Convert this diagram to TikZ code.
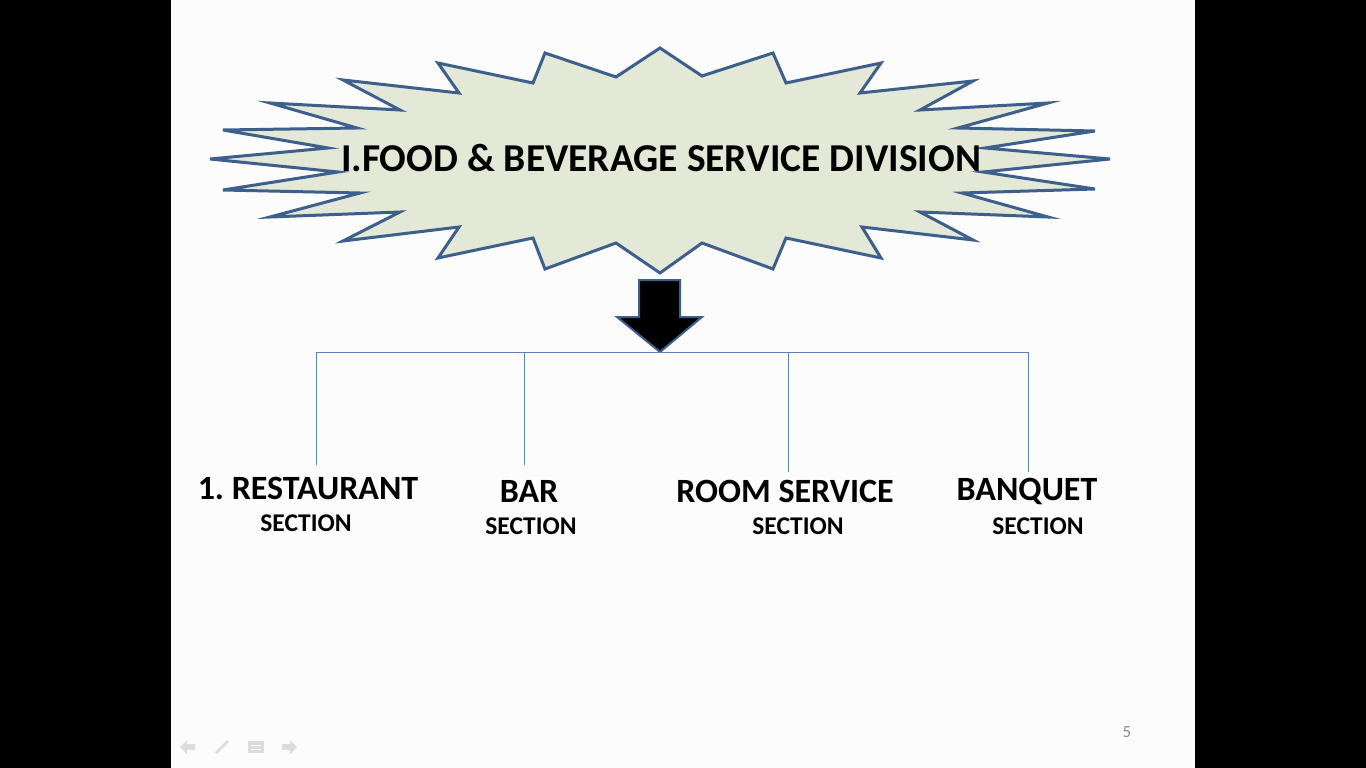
\documentclass[tikz,border=0pt]{standalone}
\usepackage{fontspec}
\setmainfont{Carlito}
\usepackage{xcolor}
\frenchspacing

\definecolor{burstfill}{HTML}{E4E8D6}
\definecolor{burstline}{HTML}{3D5F8C}
\definecolor{branchline}{HTML}{5B82B3}
\definecolor{iconcol}{HTML}{DCDCDC}

\tikzset{
  burst/.style={fill=burstfill, draw=burstline, line width=3pt, line join=miter},
  downarrow/.style={fill=black, draw=burstline, line width=2pt, line join=miter},
  branch/.style={draw=branchline, line width=0.9pt},
  unitname/.style={font=\fontsize{34}{36}\selectfont\bfseries, inner sep=0pt},
  unitsub/.style={font=\fontsize{25.5}{27}\selectfont\bfseries, inner sep=0pt}
}

\begin{document}
\begin{tikzpicture}[x=1pt, y=-1pt]
  % Page frame and slide
  \useasboundingbox (0,0) rectangle (1366,768);
  \fill[black] (0,0) rectangle (1366,768);
  \fill[white!99!black] (171,0) rectangle (1195,768);

  % Starburst behind the title
  \draw[burst] (660,48) -- (702,76) -- (773,53) -- (786,83) -- (881,63) -- (860,93)
    -- (973,81) -- (920,110) -- (1048,103) -- (958,128) -- (1095,131) -- (985,148)
    -- (1110,159) -- (983,172) -- (1095,189) -- (962,193) -- (1048,217) -- (920,212)
    -- (973,240) -- (862,227) -- (881,258) -- (786,238) -- (773,269) -- (702,243)
    -- (660,273) -- (616,243) -- (545,269) -- (533,238) -- (438,258) -- (459,227)
    -- (343,241) -- (400,212) -- (270,217) -- (360,193) -- (223,190) -- (338,172)
    -- (210,159) -- (328,148) -- (223,130) -- (357,128) -- (270,103) -- (400,110)
    -- (343,80) -- (459,93) -- (438,63) -- (533,83) -- (545,53) -- (616,77) -- cycle;
  \node[font=\fontsize{39.5}{41}\selectfont\bfseries, inner sep=0pt] (division) at (661,158)
    {I.FOOD \& BEVERAGE SERVICE DIVISION};

  % Block arrow down to the branches
  \draw[downarrow] (639,280) -- (680,280) -- (680,317) -- (702,317) -- (660,352)
    -- (617,317) -- (639,317) -- cycle;

  % Branch points
  \coordinate (hub) at (660,352);
  \coordinate (restTop) at (316,352);
  \coordinate (barTop) at (524,352);
  \coordinate (roomTop) at (788,352);
  \coordinate (banqTop) at (1028,352);
  \coordinate (restEnd) at (316,465);
  \coordinate (barEnd) at (524,465);
  \coordinate (roomEnd) at (788,472);
  \coordinate (banqEnd) at (1028,472);

  \draw[branch] (restTop) -- (banqTop);
  \draw[branch] (restTop) -- (restEnd);
  \draw[branch] (barTop) -- (barEnd);
  \draw[branch] (roomTop) -- (roomEnd);
  \draw[branch] (banqTop) -- (banqEnd);

  % Section names
  \node[unitname] (restaurant) at (308,488) {1. RESTAURANT};
  \node[unitsub] (restaurantSub) at (306,523) {SECTION};
  \node[unitname] (bar) at (529,491) {BAR};
  \node[unitsub] (barSub) at (531,526) {SECTION};
  \node[unitname] (room) at (785,491) {ROOM SERVICE};
  \node[unitsub] (roomSub) at (798,526) {SECTION};
  \node[unitname] (banquet) at (1027,491) {BANQUET};
  \node[unitsub] (banquetSub) at (1038,526) {SECTION};

  % Slide number
  \node[font=\fontsize{17}{19}\selectfont, text=black!45, inner sep=0pt] (pageno) at (1127,732) {5};

  % Faint navigation icons
  \fill[iconcol] (180,747) -- (187,740) -- (187,744) -- (195,744) -- (195,750)
    -- (187,750) -- (187,754) -- cycle;
  \draw[iconcol, line width=2.5pt] (216,753) -- (228,741);
  \fill[iconcol] (248,741) rectangle (264,753);
  \draw[white, line width=0.8pt] (251,745) -- (261,745) (251,749) -- (261,749);
  \fill[iconcol] (297,747) -- (290,740) -- (290,744) -- (282,744) -- (282,750)
    -- (290,750) -- (290,754) -- cycle;
\end{tikzpicture}
\end{document}
